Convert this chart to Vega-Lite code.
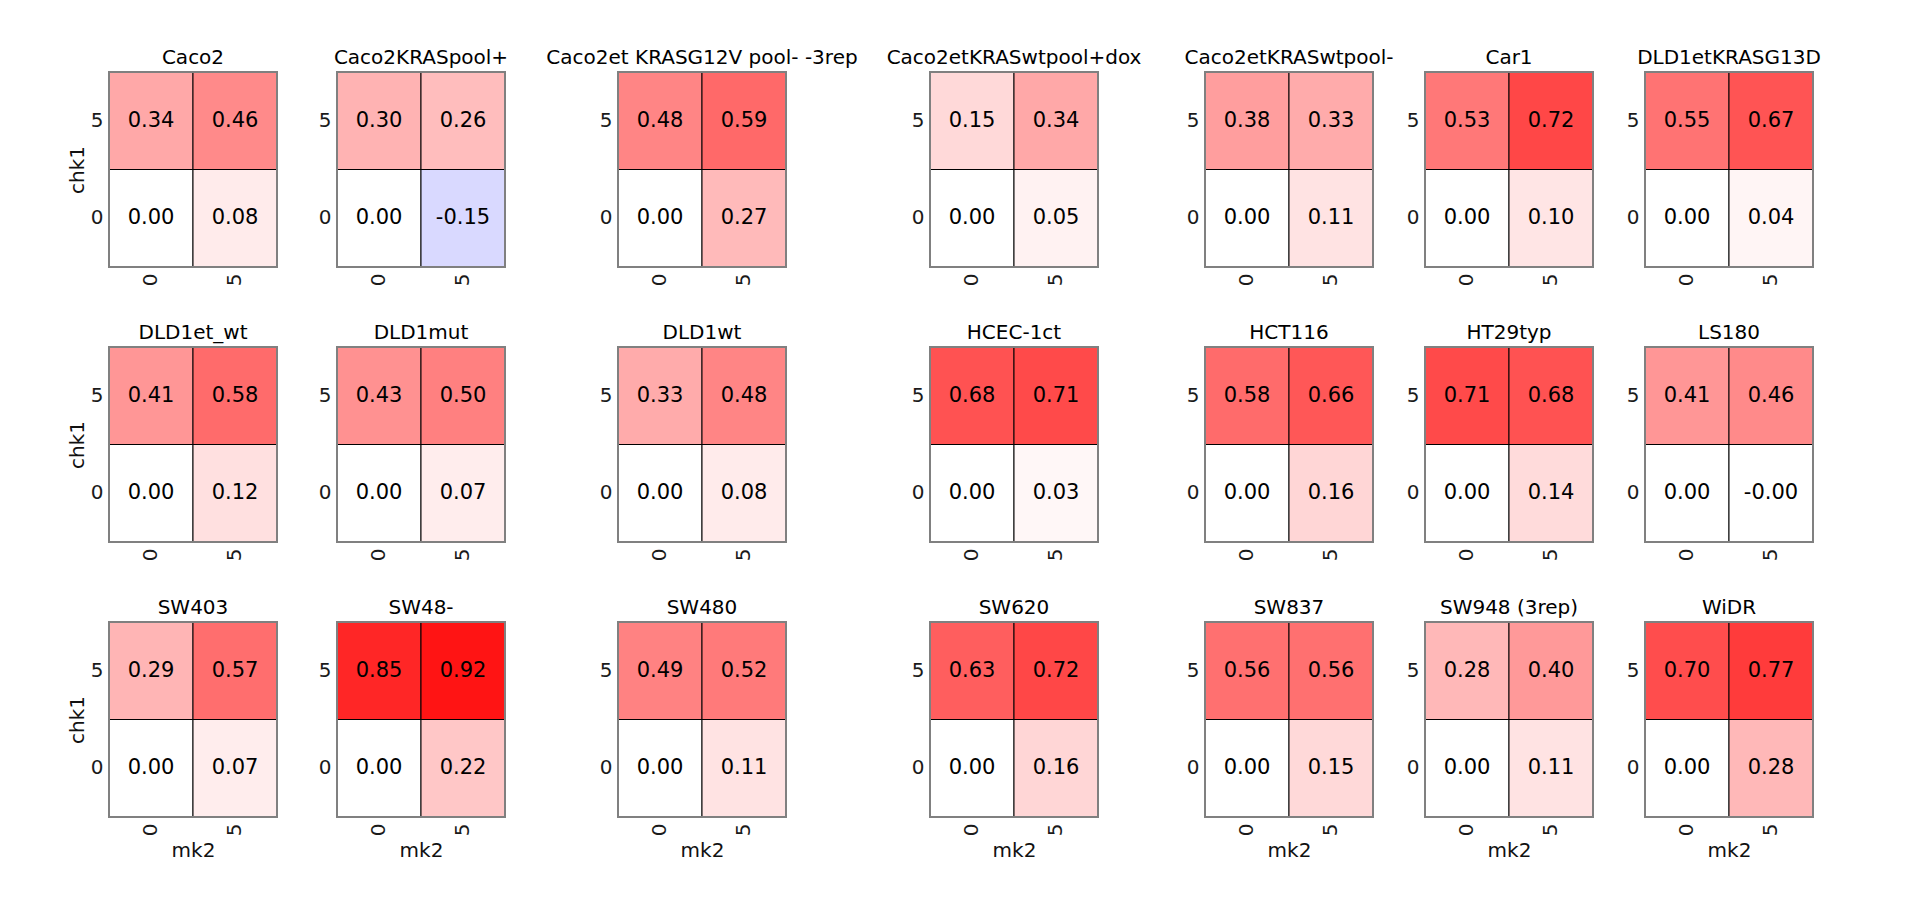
{
"$schema": "https://vega.github.io/schema/vega-lite/v6.json",
"padding": {"left": 66, "top": 46, "right": 10, "bottom": 10},
"background": "white",
"data": {"values": [
{"line":"Caco2","mk2":0,"chk1":5,"v":0.34},{"line":"Caco2","mk2":5,"chk1":5,"v":0.46},{"line":"Caco2","mk2":0,"chk1":0,"v":0.0},{"line":"Caco2","mk2":5,"chk1":0,"v":0.08},
{"line":"Caco2KRASpool+","mk2":0,"chk1":5,"v":0.30},{"line":"Caco2KRASpool+","mk2":5,"chk1":5,"v":0.26},{"line":"Caco2KRASpool+","mk2":0,"chk1":0,"v":0.0},{"line":"Caco2KRASpool+","mk2":5,"chk1":0,"v":-0.15},
{"line":"Caco2et KRASG12V pool- -3rep","mk2":0,"chk1":5,"v":0.48},{"line":"Caco2et KRASG12V pool- -3rep","mk2":5,"chk1":5,"v":0.59},{"line":"Caco2et KRASG12V pool- -3rep","mk2":0,"chk1":0,"v":0.0},{"line":"Caco2et KRASG12V pool- -3rep","mk2":5,"chk1":0,"v":0.27},
{"line":"Caco2etKRASwtpool+dox","mk2":0,"chk1":5,"v":0.15},{"line":"Caco2etKRASwtpool+dox","mk2":5,"chk1":5,"v":0.34},{"line":"Caco2etKRASwtpool+dox","mk2":0,"chk1":0,"v":0.0},{"line":"Caco2etKRASwtpool+dox","mk2":5,"chk1":0,"v":0.05},
{"line":"Caco2etKRASwtpool-","mk2":0,"chk1":5,"v":0.38},{"line":"Caco2etKRASwtpool-","mk2":5,"chk1":5,"v":0.33},{"line":"Caco2etKRASwtpool-","mk2":0,"chk1":0,"v":0.0},{"line":"Caco2etKRASwtpool-","mk2":5,"chk1":0,"v":0.11},
{"line":"Car1","mk2":0,"chk1":5,"v":0.53},{"line":"Car1","mk2":5,"chk1":5,"v":0.72},{"line":"Car1","mk2":0,"chk1":0,"v":0.0},{"line":"Car1","mk2":5,"chk1":0,"v":0.10},
{"line":"DLD1etKRASG13D","mk2":0,"chk1":5,"v":0.55},{"line":"DLD1etKRASG13D","mk2":5,"chk1":5,"v":0.67},{"line":"DLD1etKRASG13D","mk2":0,"chk1":0,"v":0.0},{"line":"DLD1etKRASG13D","mk2":5,"chk1":0,"v":0.04},
{"line":"DLD1et_wt","mk2":0,"chk1":5,"v":0.41},{"line":"DLD1et_wt","mk2":5,"chk1":5,"v":0.58},{"line":"DLD1et_wt","mk2":0,"chk1":0,"v":0.0},{"line":"DLD1et_wt","mk2":5,"chk1":0,"v":0.12},
{"line":"DLD1mut","mk2":0,"chk1":5,"v":0.43},{"line":"DLD1mut","mk2":5,"chk1":5,"v":0.50},{"line":"DLD1mut","mk2":0,"chk1":0,"v":0.0},{"line":"DLD1mut","mk2":5,"chk1":0,"v":0.07},
{"line":"DLD1wt","mk2":0,"chk1":5,"v":0.33},{"line":"DLD1wt","mk2":5,"chk1":5,"v":0.48},{"line":"DLD1wt","mk2":0,"chk1":0,"v":0.0},{"line":"DLD1wt","mk2":5,"chk1":0,"v":0.08},
{"line":"HCEC-1ct","mk2":0,"chk1":5,"v":0.68},{"line":"HCEC-1ct","mk2":5,"chk1":5,"v":0.71},{"line":"HCEC-1ct","mk2":0,"chk1":0,"v":0.0},{"line":"HCEC-1ct","mk2":5,"chk1":0,"v":0.03},
{"line":"HCT116","mk2":0,"chk1":5,"v":0.58},{"line":"HCT116","mk2":5,"chk1":5,"v":0.66},{"line":"HCT116","mk2":0,"chk1":0,"v":0.0},{"line":"HCT116","mk2":5,"chk1":0,"v":0.16},
{"line":"HT29typ","mk2":0,"chk1":5,"v":0.71},{"line":"HT29typ","mk2":5,"chk1":5,"v":0.68},{"line":"HT29typ","mk2":0,"chk1":0,"v":0.0},{"line":"HT29typ","mk2":5,"chk1":0,"v":0.14},
{"line":"LS180","mk2":0,"chk1":5,"v":0.41},{"line":"LS180","mk2":5,"chk1":5,"v":0.46},{"line":"LS180","mk2":0,"chk1":0,"v":0.0},{"line":"LS180","mk2":5,"chk1":0,"v":-0.001},
{"line":"SW403","mk2":0,"chk1":5,"v":0.29},{"line":"SW403","mk2":5,"chk1":5,"v":0.57},{"line":"SW403","mk2":0,"chk1":0,"v":0.0},{"line":"SW403","mk2":5,"chk1":0,"v":0.07},
{"line":"SW48-","mk2":0,"chk1":5,"v":0.85},{"line":"SW48-","mk2":5,"chk1":5,"v":0.92},{"line":"SW48-","mk2":0,"chk1":0,"v":0.0},{"line":"SW48-","mk2":5,"chk1":0,"v":0.22},
{"line":"SW480","mk2":0,"chk1":5,"v":0.49},{"line":"SW480","mk2":5,"chk1":5,"v":0.52},{"line":"SW480","mk2":0,"chk1":0,"v":0.0},{"line":"SW480","mk2":5,"chk1":0,"v":0.11},
{"line":"SW620","mk2":0,"chk1":5,"v":0.63},{"line":"SW620","mk2":5,"chk1":5,"v":0.72},{"line":"SW620","mk2":0,"chk1":0,"v":0.0},{"line":"SW620","mk2":5,"chk1":0,"v":0.16},
{"line":"SW837","mk2":0,"chk1":5,"v":0.56},{"line":"SW837","mk2":5,"chk1":5,"v":0.56},{"line":"SW837","mk2":0,"chk1":0,"v":0.0},{"line":"SW837","mk2":5,"chk1":0,"v":0.15},
{"line":"SW948 (3rep)","mk2":0,"chk1":5,"v":0.28},{"line":"SW948 (3rep)","mk2":5,"chk1":5,"v":0.40},{"line":"SW948 (3rep)","mk2":0,"chk1":0,"v":0.0},{"line":"SW948 (3rep)","mk2":5,"chk1":0,"v":0.11},
{"line":"WiDR","mk2":0,"chk1":5,"v":0.70},{"line":"WiDR","mk2":5,"chk1":5,"v":0.77},{"line":"WiDR","mk2":0,"chk1":0,"v":0.0},{"line":"WiDR","mk2":5,"chk1":0,"v":0.28}
]},
"columns": 13,
"spacing": {"row": 80, "column": 0},
"bounds": "flush",
"align": "each",
"concat": [
{"title":"Caco2","width":168,"height":195,"transform":[{"filter":{"field":"line","equal":"Caco2"}}],"encoding":{"x":{"field":"mk2","type":"ordinal","title":null,"scale":{"paddingInner":0,"paddingOuter":0}},"y":{"field":"chk1","type":"ordinal","sort":"descending","title":"chk1","scale":{"paddingInner":0,"paddingOuter":0}}},"layer":[{"mark":"rect","encoding":{"color":{"field":"v","type":"quantitative","scale":{"domain":[-1,0,1],"range":["#0000ff","#ffffff","#ff0000"],"interpolate":"rgb"},"legend":null}}},{"mark":"text","encoding":{"text":{"field":"v","type":"quantitative","format":".2f","condition":{"test":"datum.v < 0 && datum.v > -0.005","value":"-0.00"}}}}]},
{"width":60,"height":195,"data":{"values":[]},"mark":"point","view":{"stroke":null}},
{"title":"Caco2KRASpool+","width":168,"height":195,"transform":[{"filter":{"field":"line","equal":"Caco2KRASpool+"}}],"encoding":{"x":{"field":"mk2","type":"ordinal","title":null,"scale":{"paddingInner":0,"paddingOuter":0}},"y":{"field":"chk1","type":"ordinal","sort":"descending","title":null,"scale":{"paddingInner":0,"paddingOuter":0}}},"layer":[{"mark":"rect","encoding":{"color":{"field":"v","type":"quantitative","scale":{"domain":[-1,0,1],"range":["#0000ff","#ffffff","#ff0000"],"interpolate":"rgb"},"legend":null}}},{"mark":"text","encoding":{"text":{"field":"v","type":"quantitative","format":".2f","condition":{"test":"datum.v < 0 && datum.v > -0.005","value":"-0.00"}}}}]},
{"width":113,"height":195,"data":{"values":[]},"mark":"point","view":{"stroke":null}},
{"title":"Caco2et KRASG12V pool- -3rep","width":168,"height":195,"transform":[{"filter":{"field":"line","equal":"Caco2et KRASG12V pool- -3rep"}}],"encoding":{"x":{"field":"mk2","type":"ordinal","title":null,"scale":{"paddingInner":0,"paddingOuter":0}},"y":{"field":"chk1","type":"ordinal","sort":"descending","title":null,"scale":{"paddingInner":0,"paddingOuter":0}}},"layer":[{"mark":"rect","encoding":{"color":{"field":"v","type":"quantitative","scale":{"domain":[-1,0,1],"range":["#0000ff","#ffffff","#ff0000"],"interpolate":"rgb"},"legend":null}}},{"mark":"text","encoding":{"text":{"field":"v","type":"quantitative","format":".2f","condition":{"test":"datum.v < 0 && datum.v > -0.005","value":"-0.00"}}}}]},
{"width":144,"height":195,"data":{"values":[]},"mark":"point","view":{"stroke":null}},
{"title":"Caco2etKRASwtpool+dox","width":168,"height":195,"transform":[{"filter":{"field":"line","equal":"Caco2etKRASwtpool+dox"}}],"encoding":{"x":{"field":"mk2","type":"ordinal","title":null,"scale":{"paddingInner":0,"paddingOuter":0}},"y":{"field":"chk1","type":"ordinal","sort":"descending","title":null,"scale":{"paddingInner":0,"paddingOuter":0}}},"layer":[{"mark":"rect","encoding":{"color":{"field":"v","type":"quantitative","scale":{"domain":[-1,0,1],"range":["#0000ff","#ffffff","#ff0000"],"interpolate":"rgb"},"legend":null}}},{"mark":"text","encoding":{"text":{"field":"v","type":"quantitative","format":".2f","condition":{"test":"datum.v < 0 && datum.v > -0.005","value":"-0.00"}}}}]},
{"width":107,"height":195,"data":{"values":[]},"mark":"point","view":{"stroke":null}},
{"title":"Caco2etKRASwtpool-","width":168,"height":195,"transform":[{"filter":{"field":"line","equal":"Caco2etKRASwtpool-"}}],"encoding":{"x":{"field":"mk2","type":"ordinal","title":null,"scale":{"paddingInner":0,"paddingOuter":0}},"y":{"field":"chk1","type":"ordinal","sort":"descending","title":null,"scale":{"paddingInner":0,"paddingOuter":0}}},"layer":[{"mark":"rect","encoding":{"color":{"field":"v","type":"quantitative","scale":{"domain":[-1,0,1],"range":["#0000ff","#ffffff","#ff0000"],"interpolate":"rgb"},"legend":null}}},{"mark":"text","encoding":{"text":{"field":"v","type":"quantitative","format":".2f","condition":{"test":"datum.v < 0 && datum.v > -0.005","value":"-0.00"}}}}]},
{"width":52,"height":195,"data":{"values":[]},"mark":"point","view":{"stroke":null}},
{"title":"Car1","width":168,"height":195,"transform":[{"filter":{"field":"line","equal":"Car1"}}],"encoding":{"x":{"field":"mk2","type":"ordinal","title":null,"scale":{"paddingInner":0,"paddingOuter":0}},"y":{"field":"chk1","type":"ordinal","sort":"descending","title":null,"scale":{"paddingInner":0,"paddingOuter":0}}},"layer":[{"mark":"rect","encoding":{"color":{"field":"v","type":"quantitative","scale":{"domain":[-1,0,1],"range":["#0000ff","#ffffff","#ff0000"],"interpolate":"rgb"},"legend":null}}},{"mark":"text","encoding":{"text":{"field":"v","type":"quantitative","format":".2f","condition":{"test":"datum.v < 0 && datum.v > -0.005","value":"-0.00"}}}}]},
{"width":52,"height":195,"data":{"values":[]},"mark":"point","view":{"stroke":null}},
{"title":"DLD1etKRASG13D","width":168,"height":195,"transform":[{"filter":{"field":"line","equal":"DLD1etKRASG13D"}}],"encoding":{"x":{"field":"mk2","type":"ordinal","title":null,"scale":{"paddingInner":0,"paddingOuter":0}},"y":{"field":"chk1","type":"ordinal","sort":"descending","title":null,"scale":{"paddingInner":0,"paddingOuter":0}}},"layer":[{"mark":"rect","encoding":{"color":{"field":"v","type":"quantitative","scale":{"domain":[-1,0,1],"range":["#0000ff","#ffffff","#ff0000"],"interpolate":"rgb"},"legend":null}}},{"mark":"text","encoding":{"text":{"field":"v","type":"quantitative","format":".2f","condition":{"test":"datum.v < 0 && datum.v > -0.005","value":"-0.00"}}}}]},

{"title":"DLD1et_wt","width":168,"height":195,"transform":[{"filter":{"field":"line","equal":"DLD1et_wt"}}],"encoding":{"x":{"field":"mk2","type":"ordinal","title":null,"scale":{"paddingInner":0,"paddingOuter":0}},"y":{"field":"chk1","type":"ordinal","sort":"descending","title":"chk1","scale":{"paddingInner":0,"paddingOuter":0}}},"layer":[{"mark":"rect","encoding":{"color":{"field":"v","type":"quantitative","scale":{"domain":[-1,0,1],"range":["#0000ff","#ffffff","#ff0000"],"interpolate":"rgb"},"legend":null}}},{"mark":"text","encoding":{"text":{"field":"v","type":"quantitative","format":".2f","condition":{"test":"datum.v < 0 && datum.v > -0.005","value":"-0.00"}}}}]},
{"width":60,"height":195,"data":{"values":[]},"mark":"point","view":{"stroke":null}},
{"title":"DLD1mut","width":168,"height":195,"transform":[{"filter":{"field":"line","equal":"DLD1mut"}}],"encoding":{"x":{"field":"mk2","type":"ordinal","title":null,"scale":{"paddingInner":0,"paddingOuter":0}},"y":{"field":"chk1","type":"ordinal","sort":"descending","title":null,"scale":{"paddingInner":0,"paddingOuter":0}}},"layer":[{"mark":"rect","encoding":{"color":{"field":"v","type":"quantitative","scale":{"domain":[-1,0,1],"range":["#0000ff","#ffffff","#ff0000"],"interpolate":"rgb"},"legend":null}}},{"mark":"text","encoding":{"text":{"field":"v","type":"quantitative","format":".2f","condition":{"test":"datum.v < 0 && datum.v > -0.005","value":"-0.00"}}}}]},
{"width":113,"height":195,"data":{"values":[]},"mark":"point","view":{"stroke":null}},
{"title":"DLD1wt","width":168,"height":195,"transform":[{"filter":{"field":"line","equal":"DLD1wt"}}],"encoding":{"x":{"field":"mk2","type":"ordinal","title":null,"scale":{"paddingInner":0,"paddingOuter":0}},"y":{"field":"chk1","type":"ordinal","sort":"descending","title":null,"scale":{"paddingInner":0,"paddingOuter":0}}},"layer":[{"mark":"rect","encoding":{"color":{"field":"v","type":"quantitative","scale":{"domain":[-1,0,1],"range":["#0000ff","#ffffff","#ff0000"],"interpolate":"rgb"},"legend":null}}},{"mark":"text","encoding":{"text":{"field":"v","type":"quantitative","format":".2f","condition":{"test":"datum.v < 0 && datum.v > -0.005","value":"-0.00"}}}}]},
{"width":144,"height":195,"data":{"values":[]},"mark":"point","view":{"stroke":null}},
{"title":"HCEC-1ct","width":168,"height":195,"transform":[{"filter":{"field":"line","equal":"HCEC-1ct"}}],"encoding":{"x":{"field":"mk2","type":"ordinal","title":null,"scale":{"paddingInner":0,"paddingOuter":0}},"y":{"field":"chk1","type":"ordinal","sort":"descending","title":null,"scale":{"paddingInner":0,"paddingOuter":0}}},"layer":[{"mark":"rect","encoding":{"color":{"field":"v","type":"quantitative","scale":{"domain":[-1,0,1],"range":["#0000ff","#ffffff","#ff0000"],"interpolate":"rgb"},"legend":null}}},{"mark":"text","encoding":{"text":{"field":"v","type":"quantitative","format":".2f","condition":{"test":"datum.v < 0 && datum.v > -0.005","value":"-0.00"}}}}]},
{"width":107,"height":195,"data":{"values":[]},"mark":"point","view":{"stroke":null}},
{"title":"HCT116","width":168,"height":195,"transform":[{"filter":{"field":"line","equal":"HCT116"}}],"encoding":{"x":{"field":"mk2","type":"ordinal","title":null,"scale":{"paddingInner":0,"paddingOuter":0}},"y":{"field":"chk1","type":"ordinal","sort":"descending","title":null,"scale":{"paddingInner":0,"paddingOuter":0}}},"layer":[{"mark":"rect","encoding":{"color":{"field":"v","type":"quantitative","scale":{"domain":[-1,0,1],"range":["#0000ff","#ffffff","#ff0000"],"interpolate":"rgb"},"legend":null}}},{"mark":"text","encoding":{"text":{"field":"v","type":"quantitative","format":".2f","condition":{"test":"datum.v < 0 && datum.v > -0.005","value":"-0.00"}}}}]},
{"width":52,"height":195,"data":{"values":[]},"mark":"point","view":{"stroke":null}},
{"title":"HT29typ","width":168,"height":195,"transform":[{"filter":{"field":"line","equal":"HT29typ"}}],"encoding":{"x":{"field":"mk2","type":"ordinal","title":null,"scale":{"paddingInner":0,"paddingOuter":0}},"y":{"field":"chk1","type":"ordinal","sort":"descending","title":null,"scale":{"paddingInner":0,"paddingOuter":0}}},"layer":[{"mark":"rect","encoding":{"color":{"field":"v","type":"quantitative","scale":{"domain":[-1,0,1],"range":["#0000ff","#ffffff","#ff0000"],"interpolate":"rgb"},"legend":null}}},{"mark":"text","encoding":{"text":{"field":"v","type":"quantitative","format":".2f","condition":{"test":"datum.v < 0 && datum.v > -0.005","value":"-0.00"}}}}]},
{"width":52,"height":195,"data":{"values":[]},"mark":"point","view":{"stroke":null}},
{"title":"LS180","width":168,"height":195,"transform":[{"filter":{"field":"line","equal":"LS180"}}],"encoding":{"x":{"field":"mk2","type":"ordinal","title":null,"scale":{"paddingInner":0,"paddingOuter":0}},"y":{"field":"chk1","type":"ordinal","sort":"descending","title":null,"scale":{"paddingInner":0,"paddingOuter":0}}},"layer":[{"mark":"rect","encoding":{"color":{"field":"v","type":"quantitative","scale":{"domain":[-1,0,1],"range":["#0000ff","#ffffff","#ff0000"],"interpolate":"rgb"},"legend":null}}},{"mark":"text","encoding":{"text":{"field":"v","type":"quantitative","format":".2f","condition":{"test":"datum.v < 0 && datum.v > -0.005","value":"-0.00"}}}}]},

{"title":"SW403","width":168,"height":195,"transform":[{"filter":{"field":"line","equal":"SW403"}}],"encoding":{"x":{"field":"mk2","type":"ordinal","title":"mk2","scale":{"paddingInner":0,"paddingOuter":0}},"y":{"field":"chk1","type":"ordinal","sort":"descending","title":"chk1","scale":{"paddingInner":0,"paddingOuter":0}}},"layer":[{"mark":"rect","encoding":{"color":{"field":"v","type":"quantitative","scale":{"domain":[-1,0,1],"range":["#0000ff","#ffffff","#ff0000"],"interpolate":"rgb"},"legend":null}}},{"mark":"text","encoding":{"text":{"field":"v","type":"quantitative","format":".2f","condition":{"test":"datum.v < 0 && datum.v > -0.005","value":"-0.00"}}}}]},
{"width":60,"height":195,"data":{"values":[]},"mark":"point","view":{"stroke":null}},
{"title":"SW48-","width":168,"height":195,"transform":[{"filter":{"field":"line","equal":"SW48-"}}],"encoding":{"x":{"field":"mk2","type":"ordinal","title":"mk2","scale":{"paddingInner":0,"paddingOuter":0}},"y":{"field":"chk1","type":"ordinal","sort":"descending","title":null,"scale":{"paddingInner":0,"paddingOuter":0}}},"layer":[{"mark":"rect","encoding":{"color":{"field":"v","type":"quantitative","scale":{"domain":[-1,0,1],"range":["#0000ff","#ffffff","#ff0000"],"interpolate":"rgb"},"legend":null}}},{"mark":"text","encoding":{"text":{"field":"v","type":"quantitative","format":".2f","condition":{"test":"datum.v < 0 && datum.v > -0.005","value":"-0.00"}}}}]},
{"width":113,"height":195,"data":{"values":[]},"mark":"point","view":{"stroke":null}},
{"title":"SW480","width":168,"height":195,"transform":[{"filter":{"field":"line","equal":"SW480"}}],"encoding":{"x":{"field":"mk2","type":"ordinal","title":"mk2","scale":{"paddingInner":0,"paddingOuter":0}},"y":{"field":"chk1","type":"ordinal","sort":"descending","title":null,"scale":{"paddingInner":0,"paddingOuter":0}}},"layer":[{"mark":"rect","encoding":{"color":{"field":"v","type":"quantitative","scale":{"domain":[-1,0,1],"range":["#0000ff","#ffffff","#ff0000"],"interpolate":"rgb"},"legend":null}}},{"mark":"text","encoding":{"text":{"field":"v","type":"quantitative","format":".2f","condition":{"test":"datum.v < 0 && datum.v > -0.005","value":"-0.00"}}}}]},
{"width":144,"height":195,"data":{"values":[]},"mark":"point","view":{"stroke":null}},
{"title":"SW620","width":168,"height":195,"transform":[{"filter":{"field":"line","equal":"SW620"}}],"encoding":{"x":{"field":"mk2","type":"ordinal","title":"mk2","scale":{"paddingInner":0,"paddingOuter":0}},"y":{"field":"chk1","type":"ordinal","sort":"descending","title":null,"scale":{"paddingInner":0,"paddingOuter":0}}},"layer":[{"mark":"rect","encoding":{"color":{"field":"v","type":"quantitative","scale":{"domain":[-1,0,1],"range":["#0000ff","#ffffff","#ff0000"],"interpolate":"rgb"},"legend":null}}},{"mark":"text","encoding":{"text":{"field":"v","type":"quantitative","format":".2f","condition":{"test":"datum.v < 0 && datum.v > -0.005","value":"-0.00"}}}}]},
{"width":107,"height":195,"data":{"values":[]},"mark":"point","view":{"stroke":null}},
{"title":"SW837","width":168,"height":195,"transform":[{"filter":{"field":"line","equal":"SW837"}}],"encoding":{"x":{"field":"mk2","type":"ordinal","title":"mk2","scale":{"paddingInner":0,"paddingOuter":0}},"y":{"field":"chk1","type":"ordinal","sort":"descending","title":null,"scale":{"paddingInner":0,"paddingOuter":0}}},"layer":[{"mark":"rect","encoding":{"color":{"field":"v","type":"quantitative","scale":{"domain":[-1,0,1],"range":["#0000ff","#ffffff","#ff0000"],"interpolate":"rgb"},"legend":null}}},{"mark":"text","encoding":{"text":{"field":"v","type":"quantitative","format":".2f","condition":{"test":"datum.v < 0 && datum.v > -0.005","value":"-0.00"}}}}]},
{"width":52,"height":195,"data":{"values":[]},"mark":"point","view":{"stroke":null}},
{"title":"SW948 (3rep)","width":168,"height":195,"transform":[{"filter":{"field":"line","equal":"SW948 (3rep)"}}],"encoding":{"x":{"field":"mk2","type":"ordinal","title":"mk2","scale":{"paddingInner":0,"paddingOuter":0}},"y":{"field":"chk1","type":"ordinal","sort":"descending","title":null,"scale":{"paddingInner":0,"paddingOuter":0}}},"layer":[{"mark":"rect","encoding":{"color":{"field":"v","type":"quantitative","scale":{"domain":[-1,0,1],"range":["#0000ff","#ffffff","#ff0000"],"interpolate":"rgb"},"legend":null}}},{"mark":"text","encoding":{"text":{"field":"v","type":"quantitative","format":".2f","condition":{"test":"datum.v < 0 && datum.v > -0.005","value":"-0.00"}}}}]},
{"width":52,"height":195,"data":{"values":[]},"mark":"point","view":{"stroke":null}},
{"title":"WiDR","width":168,"height":195,"transform":[{"filter":{"field":"line","equal":"WiDR"}}],"encoding":{"x":{"field":"mk2","type":"ordinal","title":"mk2","scale":{"paddingInner":0,"paddingOuter":0}},"y":{"field":"chk1","type":"ordinal","sort":"descending","title":null,"scale":{"paddingInner":0,"paddingOuter":0}}},"layer":[{"mark":"rect","encoding":{"color":{"field":"v","type":"quantitative","scale":{"domain":[-1,0,1],"range":["#0000ff","#ffffff","#ff0000"],"interpolate":"rgb"},"legend":null}}},{"mark":"text","encoding":{"text":{"field":"v","type":"quantitative","format":".2f","condition":{"test":"datum.v < 0 && datum.v > -0.005","value":"-0.00"}}}}]}
],
"config": {
"font": "DejaVu Sans",
"locale": {"number": {"decimal": ".", "thousands": ",", "grouping": [3], "currency": ["$", ""], "minus": "-"}},
"view": {"stroke": "#808080", "strokeWidth": 2},
"group": {"strokeForeground": true},
"style": {"cell": {"strokeForeground": true}},
"axis": {"domain": false, "grid": false, "ticks": true, "tickSize": 0, "tickColor": "#808080", "labelFontSize": 20, "labelColor": "#1a1a1a", "labelPadding": 6, "titleFontSize": 20, "titleFontWeight": "normal", "titleColor": "#111111"},
"axisX": {"labelAngle": -90, "titlePadding": 5},
"axisY": {"labelAngle": 0, "titlePadding": 3},
"title": {"fontSize": 20, "fontWeight": "normal", "color": "#000000", "offset": 4},
"text": {"fontSize": 21, "color": "#000000"},
"rect": {"stroke": "#000000", "strokeWidth": 1}
}
}
